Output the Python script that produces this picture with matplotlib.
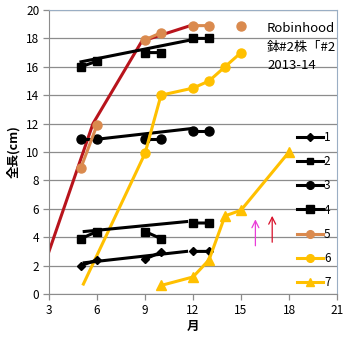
import numpy as np
import matplotlib
matplotlib.use("Agg")
import matplotlib.pyplot as plt

plt.rcParams['font.family'] = ['Noto Sans CJK JP', 'DejaVu Sans']

nan = np.nan
months = [5, 6, 7, 8, 9, 10, 11, 12, 13, 14, 15]
s1 = [2.0, 2.4, nan, nan, 2.45, 2.95, nan, 3.0, 3.0, nan, nan]
s2 = [3.9, 4.4, nan, nan, 4.4, 3.9, nan, 5.0, 5.0, nan, nan]
s3 = [10.9, 10.9, nan, nan, 10.9, 10.9, nan, 11.5, 11.5, nan, nan]
s4 = [16.0, 16.4, nan, nan, 17.0, 17.0, nan, 18.0, 18.0, nan, nan]
s5 = [8.9, 11.9, nan, nan, 17.9, 18.4, nan, 18.9, 18.9, nan, 18.9]
m6 = [9, 10, 12, 13, 14, 15]
s6 = [9.9, 14.0, 14.5, 15.0, 16.0, 17.0]
m7 = [10, 12, 13, 14, 15, 18]
s7 = [0.6, 1.2, 2.4, 5.5, 5.9, 10.0]

# hand-drawn guide lines
g1_x, g1_y = [5.2, 11.6], [2.2, 3.0]
g2_x, g2_y = [5.2, 11.6], [4.4, 5.1]
g3_x, g3_y = [6.0, 11.9], [10.9, 11.65]
g4_x, g4_y = [5.0, 11.9], [16.35, 17.9]
red_x, red_y = [3.0, 5.75, 8.8, 11.7], [3.0, 12.0, 17.8, 18.85]
yel_x, yel_y = [5.15, 9.0], [0.7, 9.9]

BLACK = '#000000'
ORANGE = '#DA8A4E'
GOLD = '#FFC000'
DARKRED = '#B8141C'

fig = plt.figure(figsize=(3.53, 3.41), dpi=100)
ax = fig.add_axes([49/353, 47/341, 288/353, 284/341])

lw = 2.2
ax.plot(red_x, red_y, color=DARKRED, lw=2.2, zorder=2)
ax.plot(yel_x, yel_y, color=GOLD, lw=2.2, zorder=2)
for gx, gy in [(g1_x, g1_y), (g2_x, g2_y), (g3_x, g3_y), (g4_x, g4_y)]:
    ax.plot(gx, gy, color=BLACK, lw=2.2, zorder=3)

ax.plot(months, s1, color=BLACK, lw=lw, marker='D', ms=4.5, label='1', zorder=4)
ax.plot(months, s2, color=BLACK, lw=lw, marker='s', ms=5.5, label='2', zorder=4)
ax.plot(months, s3, color=BLACK, lw=lw, marker='o', ms=6.5, label='3', zorder=4)
ax.plot(months, s4, color=BLACK, lw=lw, marker='s', ms=6, label='4', zorder=4)
ax.plot(months, s5, color=ORANGE, lw=lw, marker='o', ms=6.5, label='5', zorder=4)
ax.plot(m6, s6, color=GOLD, lw=lw, marker='o', ms=6.5, label='6', zorder=4)
ax.plot(m7, s7, color=GOLD, lw=lw, marker='^', ms=6.5, label='7', zorder=4)

ax.annotate('', xy=(15.9, 5.45), xytext=(15.9, 3.2),
            arrowprops=dict(arrowstyle='->,head_width=0.25,head_length=0.5',
                            color='#E93CD8', lw=0.9))
ax.annotate('', xy=(16.95, 5.7), xytext=(16.95, 3.45),
            arrowprops=dict(arrowstyle='->,head_width=0.25,head_length=0.5',
                            color='#D8102A', lw=0.9))

ax.set_xlim(3, 21)
ax.set_ylim(0, 20)
ax.set_xticks(np.arange(3, 22, 3))
ax.set_yticks(np.arange(0, 21, 2))
ax.grid(axis='y', color='#8C8C8C', lw=0.9)
ax.set_axisbelow(True)
ax.tick_params(direction='out', length=4, width=0.9, color='#8C8C8C',
               labelsize=8.5, pad=3)
for side in ['left', 'bottom']:
    ax.spines[side].set_color('#8C8C8C')
for side in ['top', 'right']:
    ax.spines[side].set_color('#9AAEC4')

ax.set_ylabel('全長(cm)', fontsize=9, fontweight='bold', labelpad=4)
ax.set_xlabel('月', fontsize=9, fontweight='bold', labelpad=2)

ax.legend(loc='upper left', bbox_to_anchor=(0.84, 0.595), frameon=False,
          fontsize=8.5, handlelength=2.2, handletextpad=0.1,
          labelspacing=0.95, borderpad=0, markerscale=0.85)

fig.text(267/353, 1 - 22/341, 'Robinhood\n鉢#2株「#2\n2013-14', fontsize=9.5,
         va='top', ha='left', linespacing=1.55)

fig.savefig('out.png', dpi=100)
